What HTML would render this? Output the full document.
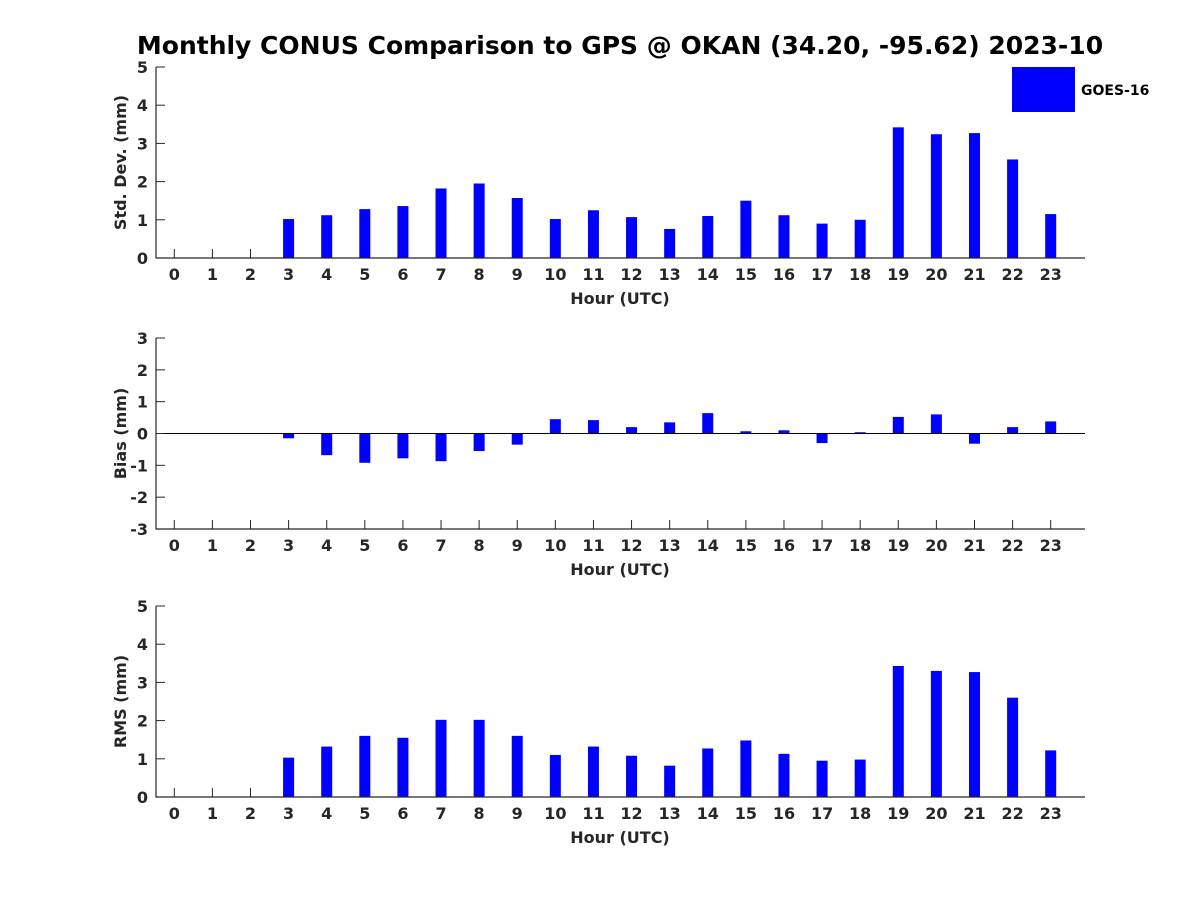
<!DOCTYPE html>
<html><head><meta charset="utf-8"><style>
body{margin:0;background:#fff}
svg text{font-family:"DejaVu Sans","Liberation Sans",sans-serif;font-weight:bold;fill:#262626}
</style></head><body>
<svg id="c" width="1200" height="900" xmlns="http://www.w3.org/2000/svg">
<text x="620" y="54" text-anchor="middle" font-size="25" style="fill:#000">Monthly CONUS Comparison to GPS @ OKAN (34.20, -95.62) 2023-10</text>
<rect x="1012" y="67" width="63" height="45" fill="#0000ff"/>
<text x="1081" y="95" font-size="14" style="fill:#000">GOES-16</text>
</svg>
<script>
const hours=[0,1,2,3,4,5,6,7,8,9,10,11,12,13,14,15,16,17,18,19,20,21,22,23];
const stdVals=[null,null,null,1.02,1.12,1.28,1.36,1.82,1.95,1.57,1.02,1.25,1.07,0.76,1.1,1.5,1.12,0.9,1.0,3.42,3.24,3.27,2.58,1.15];
const biasVals=[null,null,null,-0.15,-0.68,-0.92,-0.78,-0.87,-0.55,-0.35,0.45,0.42,0.2,0.35,0.64,0.07,0.1,-0.3,0.04,0.52,0.6,-0.32,0.2,0.38];
const rmsVals=[null,null,null,1.03,1.32,1.6,1.55,2.02,2.02,1.6,1.1,1.32,1.08,0.82,1.27,1.48,1.13,0.95,0.98,3.43,3.3,3.27,2.6,1.22];
const stdTicks=[0,1,2,3,4,5];
const biasTicks=[-3,-2,-1,0,1,2,3];
const rmsTicks=[0,1,2,3,4,5];
const svg=document.getElementById('c');const NS='http://www.w3.org/2000/svg';
function mk(t,a,p){const e=document.createElementNS(NS,t);for(const k in a)e.setAttribute(k,a[k]);(p||svg).appendChild(e);return e;}
const X0=156,X1=1085,xmin=-0.48,xmax=23.9;
const xs=v=>X0+(v-xmin)/(xmax-xmin)*(X1-X0);
function panel(name,top,bot,vals,ticks,label){
  const g=mk('g',{});
  
  
  const lo=ticks[0],hi=ticks[ticks.length-1];
  const ys=v=>bot-(v-lo)/(hi-lo)*(bot-top);
  const base=lo<0?0:lo;
  hours.forEach(h=>{const x=xs(h);
    mk('line',{x1:x,x2:x,y1:bot,y2:bot-9,stroke:'#262626'},g);
    const tx=mk('text',{x:x,y:bot+22,'text-anchor':'middle','font-size':16},g);tx.textContent=h;
    });
  vals.forEach((v,i)=>{if(v===null)return;
    const y0=ys(base),y1=ys(v);
    const r=mk('rect',{x:xs(hours[i])-5.5,y:Math.min(y0,y1),width:11,height:Math.abs(y1-y0),fill:'#0000ff'},g);
    
    
  });
  if(lo<0){const z=mk('line',{x1:X0,x2:X1,y1:ys(0),y2:ys(0),stroke:'#000','stroke-width':1},g);
    }
  const ax=mk('path',{d:`M${X0},${top}V${bot}H${X1}`,stroke:'#262626','stroke-width':1.2,fill:'none'},g);
  
  ticks.forEach(t=>{const y=ys(t);
    mk('line',{x1:X0,x2:X0+9,y1:y,y2:y,stroke:'#262626'},g);
    const tx=mk('text',{x:X0-8,y:y+6,'text-anchor':'end','font-size':16},g);tx.textContent=t;
    });
  const xl=mk('text',{x:620,y:bot+46,'text-anchor':'middle','font-size':16},g);xl.textContent='Hour (UTC)';
  
  const cy=(top+bot)/2;
  const yl=mk('text',{x:126,y:cy,'text-anchor':'middle','font-size':16,transform:`rotate(-90 126 ${cy})`},g);yl.textContent=label;
  
}
panel('std',67,258,stdVals,stdTicks,'Std. Dev. (mm)');
panel('bias',338,529,biasVals,biasTicks,'Bias (mm)');
panel('rms',606,797,rmsVals,rmsTicks,'RMS (mm)');
</script>
</body></html>
